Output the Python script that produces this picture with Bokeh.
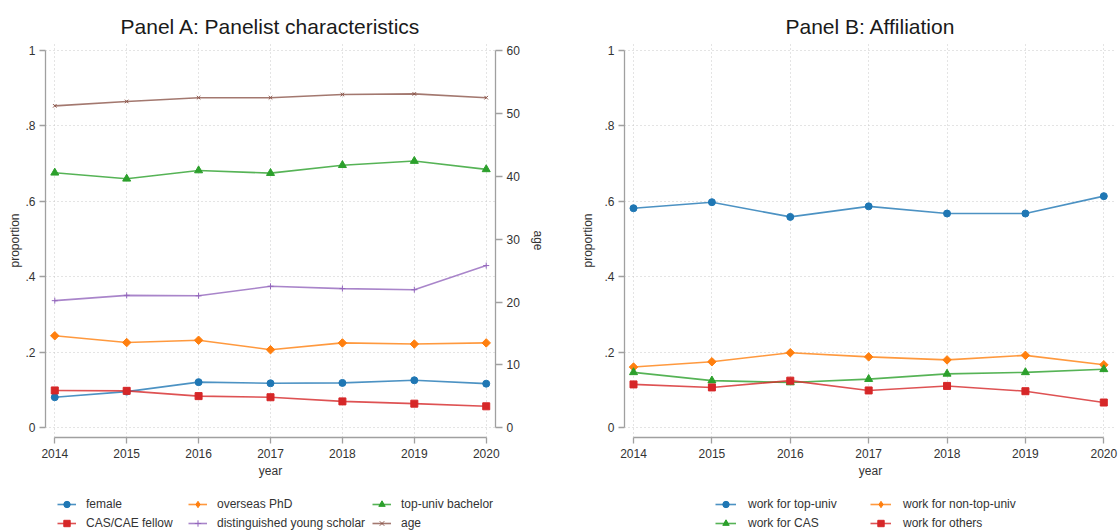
from bokeh.plotting import figure
from bokeh.models import Range1d, LinearAxis, FixedTicker, Legend, LegendItem
from bokeh.layouts import row, column
from bokeh.embed import file_html
from bokeh.resources import INLINE
import math

# ---------------- data ----------------
YEARS = [2014, 2015, 2016, 2017, 2018, 2019, 2020]

# Panel A (proportions, left axis)
FEMALE = [0.081, 0.096, 0.121, 0.118, 0.119, 0.126, 0.117]
OVERSEAS_PHD = [0.244, 0.226, 0.232, 0.207, 0.225, 0.222, 0.225]
TOP_UNIV_BACHELOR = [0.676, 0.660, 0.682, 0.675, 0.696, 0.707, 0.685]
CAS_CAE_FELLOW = [0.099, 0.098, 0.084, 0.081, 0.070, 0.064, 0.057]
DIST_YOUNG_SCHOLAR = [0.337, 0.351, 0.350, 0.375, 0.369, 0.366, 0.430]
# Panel A (age, right axis)
AGE = [51.2, 51.9, 52.5, 52.5, 53.0, 53.1, 52.5]

# Panel B
TOP_UNIV = [0.582, 0.598, 0.559, 0.587, 0.568, 0.568, 0.614]
NON_TOP_UNIV = [0.161, 0.175, 0.199, 0.188, 0.180, 0.192, 0.167]
WORK_CAS = [0.147, 0.125, 0.120, 0.129, 0.143, 0.147, 0.155]
WORK_OTHERS = [0.115, 0.107, 0.125, 0.099, 0.111, 0.097, 0.067]

PROP_TICKS = [0, 0.2, 0.4, 0.6, 0.8, 1]
PROP_LABELS = ["0", ".2", ".4", ".6", ".8", "1"]
AGE_TICKS = [0, 10, 20, 30, 40, 50, 60]

LEGEND_A = [["female", "CAS/CAE fellow"],
            ["overseas PhD", "distinguished young scholar"],
            ["top-univ bachelor", "age"]]
LEGEND_B = [["work for top-univ", "work for CAS"],
            ["work for non-top-univ", "work for others"]]

DATA = {
    "female": FEMALE, "overseas PhD": OVERSEAS_PHD, "top-univ bachelor": TOP_UNIV_BACHELOR,
    "CAS/CAE fellow": CAS_CAE_FELLOW, "distinguished young scholar": DIST_YOUNG_SCHOLAR,
    "age": AGE, "work for top-univ": TOP_UNIV, "work for non-top-univ": NON_TOP_UNIV,
    "work for CAS": WORK_CAS, "work for others": WORK_OTHERS,
}

# ---------------- style ----------------
FONT = "Liberation Sans"
BLUE, ORANGE, GREEN, RED, PURPLE, BROWN = "#1f77b4", "#ff7f0e", "#2ca02c", "#d62728", "#9467bd", "#8c564b"
AXIS_COLOR = "#a0a0a0"
TEXT_COLOR = "#333333"
GRID_COLOR = "#c8c8c8"

MAIN_H = 481
LEG_H = 50

# color, marker in plot, size, angle, marker in legend
STYLES = {
    "female": (BLUE, "circle", 7, 0.0, "circle"),
    "overseas PhD": (ORANGE, "square", 6, math.pi / 4, "diamond"),
    "top-univ bachelor": (GREEN, "triangle", 8, 0.0, "triangle"),
    "CAS/CAE fellow": (RED, "square", 7, 0.0, "square"),
    "distinguished young scholar": (PURPLE, "cross", 6, 0.0, "cross"),
    "age": (BROWN, "x", 5, 0.0, "x"),
    "work for top-univ": (BLUE, "circle", 7, 0.0, "circle"),
    "work for non-top-univ": (ORANGE, "square", 6, math.pi / 4, "diamond"),
    "work for CAS": (GREEN, "triangle", 8, 0.0, "triangle"),
    "work for others": (RED, "square", 7, 0.0, "square"),
}


def style_axis(ax, tick_out=6, standoff=4, label_standoff=3):
    ax.axis_line_color = AXIS_COLOR
    ax.axis_line_width = 1.3
    ax.major_tick_line_color = AXIS_COLOR
    ax.major_tick_line_width = 1.3
    ax.major_tick_out = tick_out
    ax.major_tick_in = 0
    ax.minor_tick_line_color = None
    ax.major_label_text_font = FONT
    ax.major_label_text_font_size = "12px"
    ax.major_label_text_color = TEXT_COLOR
    ax.major_label_standoff = standoff
    ax.axis_label_text_font = FONT
    ax.axis_label_text_font_size = "12px"
    ax.axis_label_text_font_style = "normal"
    ax.axis_label_text_color = TEXT_COLOR
    ax.axis_label_standoff = label_standoff


def make_fig(title, width, mb_left, mb_right, x_start, x_end, ylabel_standoff):
    p = figure(width=width, height=MAIN_H, output_backend="svg", toolbar_location=None,
               x_range=Range1d(x_start, x_end), y_range=Range1d(-0.0257, 1.0186),
               min_border_left=mb_left, min_border_right=mb_right,
               min_border_top=43, min_border_bottom=MAIN_H - 437)
    p.outline_line_color = None
    p.background_fill_color = "white"
    p.border_fill_color = "white"
    p.title.text = title
    p.title.align = "center"
    p.title.text_font = FONT
    p.title.text_font_size = "21px"
    p.title.text_font_style = "normal"
    p.title.text_color = "#1a1a1a"
    p.title.standoff = 12

    p.xaxis.ticker = FixedTicker(ticks=YEARS)
    p.xaxis.bounds = (YEARS[0], YEARS[-1])
    p.xaxis.axis_label = "year"
    style_axis(p.xaxis[0], tick_out=6, standoff=5, label_standoff=3)

    p.yaxis.ticker = FixedTicker(ticks=PROP_TICKS)
    p.yaxis.bounds = (0, 1)
    p.yaxis.major_label_overrides = {t: l for t, l in zip(PROP_TICKS, PROP_LABELS)}
    p.yaxis.axis_label = "proportion"
    p.yaxis.major_label_orientation = "horizontal"
    style_axis(p.yaxis[0], tick_out=6, standoff=4, label_standoff=ylabel_standoff)

    for g in (p.xgrid[0], p.ygrid[0]):
        g.grid_line_color = GRID_COLOR
        g.grid_line_dash = "1 3"
        g.grid_line_width = 1
    return p


def series(p, xs, ys, color, marker, size, angle=0.0, y_range_name="default"):
    ln = p.line(xs, ys, line_color=color, line_width=1.6, line_alpha=0.8,
                y_range_name=y_range_name)
    if marker in ("cross", "x"):
        sc = p.scatter(xs, ys, marker=marker, size=size, line_color=color,
                       line_width=1.0, y_range_name=y_range_name)
    else:
        sc = p.scatter(xs, ys, marker=marker, size=size, fill_color=color,
                       line_color=color, angle=angle, y_range_name=y_range_name)
    return [ln, sc]


def legend_fig(width, columns, col_x, gw, standoff):
    # legend-only strip: the series are drawn here too, but fall outside this strip's ranges,
    # so only the legend entries are visible
    lf = figure(width=width, height=LEG_H, output_backend="svg", toolbar_location=None,
                x_range=Range1d(0, 1), y_range=Range1d(0, 1),
                x_axis_type=None, y_axis_type=None, min_border=0)
    lf.outline_line_color = None
    lf.xgrid.visible = False
    lf.ygrid.visible = False
    for labels, vx in zip(columns, col_x):
        items = []
        for lab in labels:
            color, _, size, _, lmarker = STYLES[lab]
            rs = series(lf, YEARS, DATA[lab], color, lmarker, size)
            items.append(LegendItem(label=lab, renderers=rs))
        leg = Legend(items=items, location=(vx, 0), orientation="vertical",
                     padding=0, margin=0, spacing=3, glyph_height=16, glyph_width=gw,
                     label_height=16, label_standoff=standoff,
                     border_line_color=None, background_fill_alpha=0,
                     label_text_font=FONT, label_text_font_size="12px",
                     label_text_color=TEXT_COLOR)
        lf.add_layout(leg, "center")
    return lf


# ---------------- Panel A ----------------
pa = make_fig("Panel A: Panelist characteristics", 560, 45, 65, 2013.871, 2020.129, 0)
pa.extra_y_ranges = {"age": Range1d(-0.0257 * 60, 1.0186 * 60)}
ax_age = LinearAxis(y_range_name="age", axis_label="age", ticker=FixedTicker(ticks=AGE_TICKS))
ax_age.bounds = (0, 60)
style_axis(ax_age, tick_out=7, standoff=4, label_standoff=8)
pa.add_layout(ax_age, "right")

for lab in ["female", "overseas PhD", "top-univ bachelor", "CAS/CAE fellow",
            "distinguished young scholar"]:
    c, m, s, a, _ = STYLES[lab]
    series(pa, YEARS, DATA[lab], c, m, s, a)
c, m, s, a, _ = STYLES["age"]
series(pa, YEARS, AGE, c, m, s, a, y_range_name="age")

# ---------------- Panel B ----------------
pb = make_fig("Panel B: Affiliation", 558, 64, 2, 2013.885, 2020.162, 6)
for lab in ["work for top-univ", "work for non-top-univ", "work for CAS", "work for others"]:
    c, m, s, a, _ = STYLES[lab]
    series(pb, YEARS, DATA[lab], c, m, s, a)

la = legend_fig(560, LEGEND_A, [57, 188, 372], 19, 10)
lb = legend_fig(558, LEGEND_B, [155, 310], 21, 12)

layout = column(row(pa, pb, spacing=0), row(la, lb, spacing=0), spacing=0)
open("out.html", "w").write(file_html(layout, INLINE))
